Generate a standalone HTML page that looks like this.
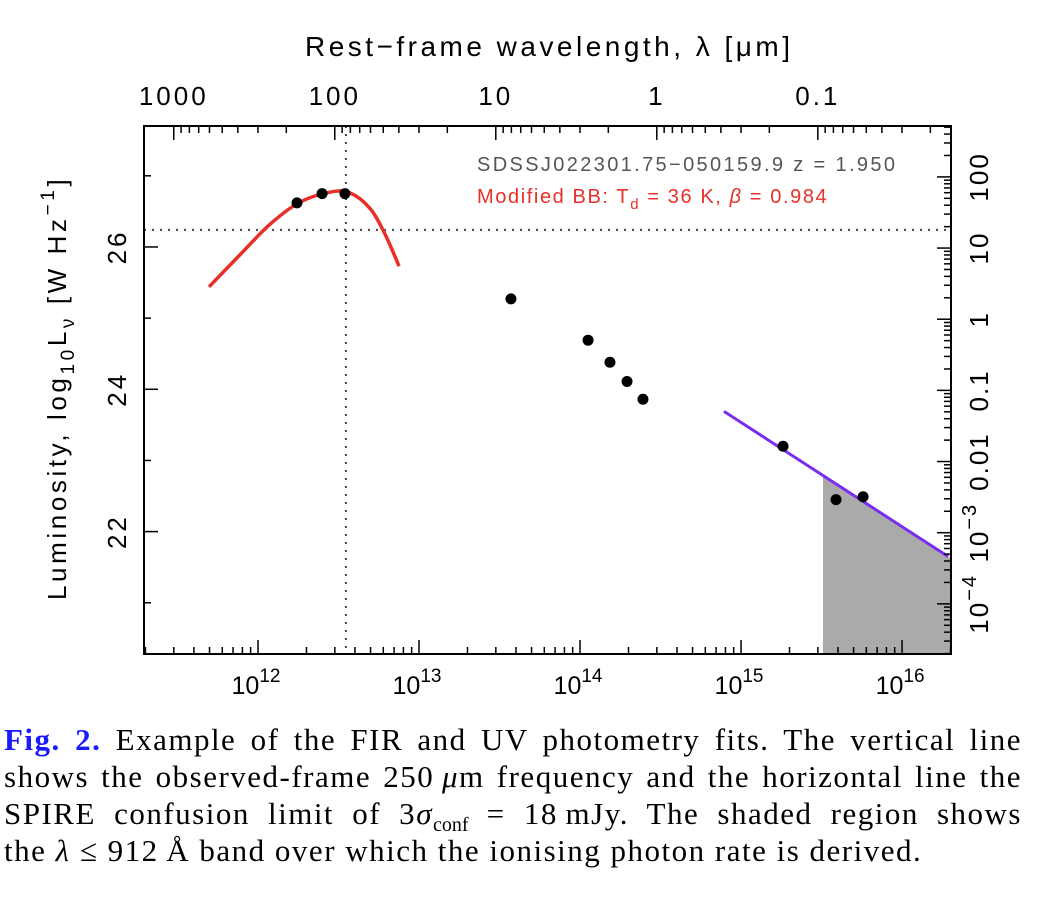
<!DOCTYPE html>
<html><head><meta charset="utf-8">
<style>
body{margin:0;background:#fff;width:1050px;height:912px;overflow:hidden;}
#cap{position:absolute;left:4px;top:721px;width:1018px;font-family:"Liberation Serif",serif;font-size:31px;line-height:37px;color:#000;letter-spacing:1.5px;}
#cap div{text-align:justify;text-align-last:justify;white-space:nowrap;}
#cap div.last{text-align-last:left;}
#cap b{color:#1a1aff;font-weight:bold;}
#cap sub{font-size:20px;line-height:0;letter-spacing:0;}
</style></head><body>
<svg id="chart" width="1050" height="712" style="position:absolute;left:0;top:0" font-family="Liberation Sans, sans-serif"></svg>
<div id="cap">
<div style="white-space:normal"><b>Fig. 2.</b> Example of the FIR and UV photometry fits. The vertical line</div>
<div style="white-space:normal">shows the observed-frame 250&thinsp;<i>μ</i>m frequency and the horizontal line the</div>
<div style="white-space:normal">SPIRE confusion limit of 3<i>σ</i><sub>conf</sub> = 18&thinsp;mJy. The shaded region shows</div>
<div class="last">the <i>λ</i> ≤ 912&thinsp;Å band over which the ionising photon rate is derived.</div>
</div>
<script>
// data
const ptNu = [12.242,12.398,12.540,13.571,14.050,14.186,14.292,14.391,15.261,15.590,15.758];
const ptL  = [26.62,26.75,26.75,25.27,24.69,24.38,24.11,23.86,23.20,22.45,22.49];
const bbNu = [11.696,11.888,12.075,12.261,12.447,12.571,12.696,12.789,12.876];
const bbL  = [25.44,25.89,26.32,26.63,26.77,26.76,26.54,26.18,25.73];
const uvNu = [14.894,16.286];
const uvL  = [23.69,21.65];
const shadeStart = 15.509;
const vLineNu = 12.546;
const hLineL = 26.24;
const xTickExp = [12,13,14,15,16];
const yTicks = [22,24,26];
const topLabels = ['1000','100','10','1','0.1'];
const topLam = [1000,100,10,1,0.1];
const rightFlux = [100,10,1,0.1,0.01,0.001,0.0001];
const rightLabels = ['100','10','1','0.1','0.01','10^-3','10^-4'];

const L=144,R=951,T=126,B=654;
const xMin=11.292,xMax=16.304,yMin=20.28,yMax=27.70;
const X=v=>L+(v-xMin)/(xMax-xMin)*(R-L);
const Y=v=>B-(v-yMin)/(yMax-yMin)*(B-T);
const lamX=lam=>X(Math.log10(2.998e14/lam));
const fluxY=f=>Y(hLineL+(Math.log10(f)-Math.log10(18)));
const svg=document.getElementById('chart');
const NS='http://www.w3.org/2000/svg';
function mk(tag,attrs,parent){const e=document.createElementNS(NS,tag);for(const k in attrs)e.setAttribute(k,attrs[k]);(parent||svg).appendChild(e);return e;}

let sy0=uvL[0]+(uvL[1]-uvL[0])*(shadeStart-uvNu[0])/(uvNu[1]-uvNu[0]);
let sy1=uvL[0]+(uvL[1]-uvL[0])*(xMax-uvNu[0])/(uvNu[1]-uvNu[0]);
let sh=mk('polygon',{points:`${X(shadeStart)},${Y(sy0)} ${R},${Y(sy1)} ${R},${B} ${X(shadeStart)},${B}`,fill:'#aaaaaa'});



let vl=mk('line',{x1:X(vLineNu),x2:X(vLineNu),y1:T,y2:B,stroke:'#444','stroke-width':2,'stroke-dasharray':'2,6'});


let hl=mk('line',{x1:L,x2:R,y1:Y(hLineL),y2:Y(hLineL),stroke:'#444','stroke-width':2,'stroke-dasharray':'2,6'});



const bp=bbNu.map((v,i)=>[X(v),Y(bbL[i])]);
let d=`M${bp[0][0]},${bp[0][1]}`;
for(let i=0;i<bp.length-1;i++){const p0=bp[i-1]||bp[i],p1=bp[i],p2=bp[i+1],p3=bp[i+2]||p2;
d+=` C${p1[0]+(p2[0]-p0[0])/6},${p1[1]+(p2[1]-p0[1])/6} ${p2[0]-(p3[0]-p1[0])/6},${p2[1]-(p3[1]-p1[1])/6} ${p2[0]},${p2[1]}`;}
let bb=mk('path',{d,fill:'none',stroke:'#e8302a','stroke-width':3.5});



let uv=mk('line',{x1:X(uvNu[0]),y1:Y(uvL[0]),x2:X(uvNu[1]),y2:Y(uvL[1]),stroke:'#7a2cf0','stroke-width':3});



ptNu.forEach((v,i)=>{let c=mk('circle',{cx:X(v),cy:Y(ptL[i]),r:5.5,fill:'#000'});

});

let fr=mk('rect',{x:L,y:T,width:R-L,height:B-T,fill:'none',stroke:'#000','stroke-width':2});



for(let e=11;e<=16;e++)for(let m=1;m<10;m++){const v=e+Math.log10(m);if(v<xMin||v>xMax)continue;
mk('line',{x1:X(v),x2:X(v),y1:B,y2:B-(m==1?14:7),stroke:'#000','stroke-width':1.5});}
xTickExp.forEach(e=>{let t=mk('text',{x:X(e)-2,y:694,'font-size':25,'text-anchor':'middle'});t.textContent='10';
let s=mk('tspan',{dy:-12,'font-size':19});s.textContent=e;t.appendChild(s);

});

for(let e=-2;e<=4;e++)for(let m=1;m<10;m++){const lam=m*Math.pow(10,e);const x=lamX(lam);if(x<L||x>R)continue;
mk('line',{x1:x,x2:x,y1:T,y2:T+(m==1?14:7),stroke:'#000','stroke-width':1.5});}
topLam.forEach((lam,i)=>{let t=mk('text',{x:lamX(lam),y:105,'font-size':26,'text-anchor':'middle','letter-spacing':3});t.textContent=topLabels[i];

});
let tt=mk('text',{x:305,y:56,'font-size':28,textLength:485,lengthAdjust:'spacing'});tt.textContent='Rest−frame wavelength, λ [μm]';



for(let v=21;v<=27;v++){mk('line',{x1:L,x2:L+(v%2==0?14:7),y1:Y(v),y2:Y(v),stroke:'#000','stroke-width':1.5});}
yTicks.forEach(v=>{let t=mk('text',{x:0,y:0,'font-size':26,'text-anchor':'middle','letter-spacing':3,transform:`translate(126,${Y(v)}) rotate(-90)`});t.textContent=v;

});
let yt=mk('text',{x:0,y:0,'font-size':26,'letter-spacing':3.6,transform:`translate(66,600) rotate(-90)`});
yt.innerHTML='Luminosity, log<tspan font-size="19" dy="8">10</tspan><tspan dy="-8">L</tspan><tspan font-size="19" dy="8">ν</tspan><tspan dy="-8"> [W Hz</tspan><tspan font-size="19" dy="-12">−1</tspan><tspan dy="12">]</tspan>';



for(let e=-5;e<=3;e++)for(let m=1;m<10;m++){const f=m*Math.pow(10,e);const y=fluxY(f);if(y<T||y>B)continue;
mk('line',{x1:R,x2:R-(m==1?14:7),y1:y,y2:y,stroke:'#000','stroke-width':1.5});}
rightFlux.forEach((f,i)=>{let t=mk('text',{x:0,y:0,'font-size':26,'text-anchor':'middle','letter-spacing':2,transform:`translate(988,${fluxY(f)}) rotate(-90)`});
const lab=rightLabels[i];
if(lab.includes('^')){const [b,ex]=lab.split('^');t.innerHTML=`${b}<tspan font-size="20" dy="-12">${ex.replace('-','−')}</tspan>`;}else t.textContent=lab;

});

let a1=mk('text',{x:477,y:171,'font-size':20,fill:'#555',textLength:418,lengthAdjust:'spacing'});a1.textContent='SDSSJ022301.75−050159.9  z = 1.950';


let a2=mk('text',{x:477,y:203,'font-size':20,fill:'#e8302a','letter-spacing':1.6});
a2.setAttribute('xml:space','preserve');
a2.innerHTML='Modified BB: T<tspan font-size="15" dy="6">d</tspan><tspan dy="-6">  =  36 K,   </tspan><tspan font-style="italic">β</tspan>  =  0.984';


</script>
</body></html>
